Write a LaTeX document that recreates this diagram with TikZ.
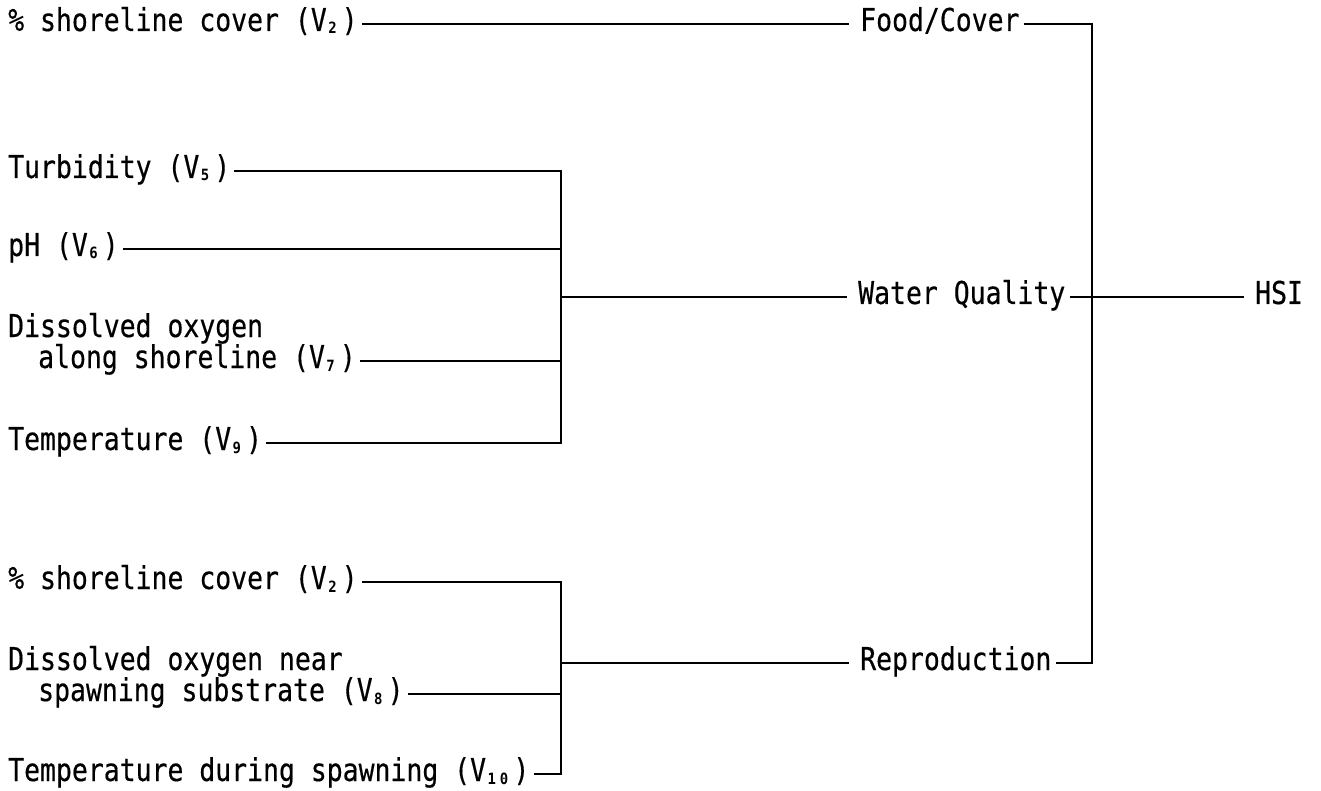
\documentclass[tikz,border=0pt]{standalone}
\usepackage{fontspec}
\newfontfamily\lp[FakeStretch=0.84,FakeBold=0.4]{DejaVu Sans Mono}
\newfontfamily\subfnt[FakeStretch=0.9]{DejaVu Sans Mono}
\newcommand\vsub[1]{\hspace{1.5pt}\raisebox{-3pt}{\subfnt\bfseries\fontsize{15.5}{15.5}\selectfont #1}\hspace{5pt}}
\newcommand\labfont{\lp\fontsize{31.5}{34}\selectfont}
\tikzset{
  lab/.style={anchor=base west, inner sep=0pt, font=\labfont},
  wire/.style={line width=1.8pt, black}
}
\begin{document}
\begin{tikzpicture}[x=1pt,y=-1pt]
\useasboundingbox (0,0) rectangle (1321,791);
% left labels
\node[lab] (s2a) at (8,31) {\% shoreline cover (V\vsub{2})};
\node[lab] (t5) at (8,178) {Turbidity (V\vsub{5})};
\node[lab] (ph) at (8,256) {pH (V\vsub{6})};
\node[lab] (d7a) at (8,337) {Dissolved oxygen};
\node[lab] (d7b) at (38,368) {along shoreline (V\vsub{7})};
\node[lab] (t9) at (8,450) {Temperature (V\vsub{9})};
\node[lab] (s2b) at (8,589) {\% shoreline cover (V\vsub{2})};
\node[lab] (d8a) at (8,670) {Dissolved oxygen near};
\node[lab] (d8b) at (38,701) {spawning substrate (V\vsub{8})};
\node[lab] (t10) at (8,781) {Temperature during spawning (V\vsub{1\hspace{4pt}0})};
% right labels
\node[lab] (fc) at (860,31) {Food/Cover};
\node[lab] (wq) at (858,304) {Water Quality};
\node[lab] (rep) at (860,670) {Reproduction};
\node[lab] (hsi) at (1255,304) {HSI};
% end points
\foreach \n in {s2a,t5,ph,d7b,t9,s2b,d8b,t10,fc,wq,rep}
  \coordinate (\n e) at ([xshift=4pt,yshift=7pt]\n.base east);
\foreach \n in {fc,wq,rep,hsi}
  \coordinate (\n w) at ([xshift=-11pt,yshift=7pt]\n.base west);
\coordinate (jwq) at (561,297);
\coordinate (jr) at (561,663);
\coordinate (jh) at (1092,297);
% food/cover
\draw[wire] (s2ae) -- (fcw);
% water quality group
\draw[wire] (t5e) -- (t5e -| jwq) -- (t9e -| jwq) -- (t9e);
\draw[wire] (phe) -- (phe -| jwq);
\draw[wire] (d7be) -- (d7be -| jwq);
\draw[wire] (jwq) -- (wqw);
% reproduction group
\draw[wire] (s2be) -- (s2be -| jr) -- (t10e -| jr) -- (t10e);
\draw[wire] (d8be) -- (d8be -| jr);
\draw[wire] (jr) -- (repw);
% HSI
\draw[wire] (fce) -- (fce -| jh) -- (repe -| jh) -- (repe);
\draw[wire] (wqe) -- (hsiw);
\end{tikzpicture}
\end{document}
